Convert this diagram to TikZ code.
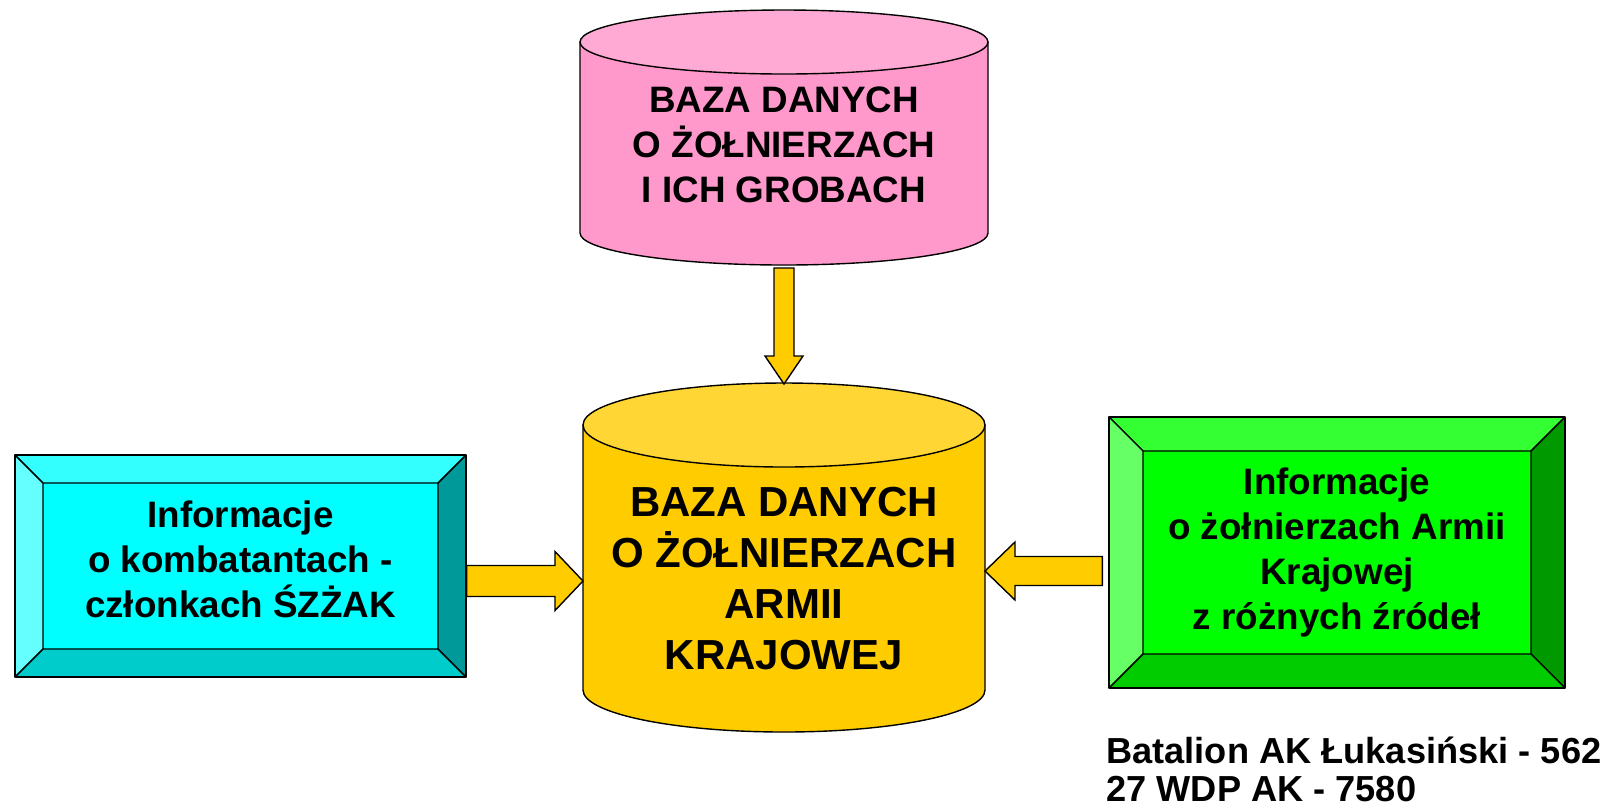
\documentclass[tikz,border=0pt]{standalone}
\usepackage{fontspec}
\setmainfont{Liberation Sans}
\usepackage{tikz}
\usetikzlibrary{calc}
\definecolor{grobyside}{HTML}{FF99CC}
\definecolor{grobytop}{HTML}{FFAAD5}
\definecolor{akside}{HTML}{FFCC00}
\definecolor{aktop}{HTML}{FFD633}
\definecolor{kombmid}{HTML}{00FFFF}
\definecolor{kombtop}{HTML}{33FFFF}
\definecolor{kombleft}{HTML}{66FFFF}
\definecolor{kombright}{HTML}{009999}
\definecolor{kombbottom}{HTML}{00CCCC}
\definecolor{zrodlamid}{HTML}{00FF00}
\definecolor{zrodlatop}{HTML}{33FF33}
\definecolor{zrodlaleft}{HTML}{66FF66}
\definecolor{zrodlaright}{HTML}{009900}
\definecolor{zrodlabottom}{HTML}{00CC00}
\newcommand{\fatarrow}[5]{%
  \path ($(#2)!#5!(#1)$) coordinate (fa-h);
  \draw [strzalka] ($(#1)!#3!90:(#2)$) -- ($(fa-h)!#3!90:(#2)$) -- ($(fa-h)!#4!90:(#2)$) -- (#2)
    -- ($(fa-h)!#4!-90:(#2)$) -- ($(fa-h)!#3!-90:(#2)$) -- ($(#1)!#3!-90:(#2)$) -- cycle;
}
\tikzset{
  strzalka/.style={draw=black,line width=0.7pt,fill=akside,line join=miter},
  opis/.style={font=\bfseries\fontsize{18.4}{22.5}\selectfont,align=center,inner sep=0pt},
  bevel/.style n args={6}{draw=black,line width=0.7pt,fill=#1,inner sep=0pt,
    path picture={
      \coordinate (bNW) at (path picture bounding box.north west);
      \coordinate (bNE) at (path picture bounding box.north east);
      \coordinate (bSW) at (path picture bounding box.south west);
      \coordinate (bSE) at (path picture bounding box.south east);
      \draw [fill=#2] (bNW) -- (bNE) -- ($(bNE)+(-#6,-#6)$) -- ($(bNW)+(#6,-#6)$) -- cycle;
      \draw [fill=#3] (bNW) -- (bSW) -- ($(bSW)+(#6,#6)$) -- ($(bNW)+(#6,-#6)$) -- cycle;
      \draw [fill=#4] (bNE) -- (bSE) -- ($(bSE)+(-#6,#6)$) -- ($(bNE)+(-#6,-#6)$) -- cycle;
      \draw [fill=#5] (bSW) -- (bSE) -- ($(bSE)+(-#6,#6)$) -- ($(bSW)+(#6,#6)$) -- cycle;
    }},
}
\begin{document}
\begin{tikzpicture}[line cap=round,line join=round,x=0.5pt,y=0.5pt]
  \useasboundingbox (0,0) rectangle (1617,-811);
  \draw [line width=0.7pt,fill=grobyside] (580,-42) -- (580,-233) arc (180:360:204 and 32) -- (988,-42) -- cycle;
  \draw [line width=0.7pt,fill=grobytop] (784,-42) ellipse (204 and 32);
  \node [opis] (groby) at (784,-145) {BAZA DANYCH\\O ŻOŁNIERZACH\\I ICH GROBACH};
  \draw [line width=0.7pt,fill=akside] (583,-425) -- (583,-690) arc (180:360:201 and 42) -- (985,-425) -- cycle;
  \draw [line width=0.7pt,fill=aktop] (784,-425) ellipse (201 and 42);
  \node [opis,font=\bfseries\fontsize{21}{25.5}\selectfont] (ak) at (784,-579) {BAZA DANYCH\\O ŻOŁNIERZACH\\ARMII\\KRAJOWEJ};
  \node [opis,bevel={kombmid}{kombtop}{kombleft}{kombright}{kombbottom}{14pt},
    minimum width=225.5pt,minimum height=111pt,text depth=7pt] (kombatanci) at (240.5,-566)
    {Informacje\\o kombatantach -\\członkach ŚZŻAK};
  \node [opis,bevel={zrodlamid}{zrodlatop}{zrodlaleft}{zrodlaright}{zrodlabottom}{17pt},
    minimum width=228pt,minimum height=135.5pt] (zrodla) at (1337,-552.5)
    {Informacje\\o żołnierzach Armii\\Krajowej\\z różnych źródeł};
  \node [opis,font=\bfseries\fontsize{18.1}{19}\selectfont,align=left,anchor=north west] (liczby) at (1106,-737)
    {Batalion AK Łukasiński - 562\\27 WDP AK - 7580};
  \coordinate (grobyS) at (784,-268);
  \coordinate (akN) at (784,-384);
  \coordinate (akW) at (583,-581);
  \coordinate (akE) at (985,-571);
  \coordinate (kombE) at (kombatanci.east |- akW);
  \coordinate (zrodlaW) at ($(zrodla.west |- akE)+(-6,0)$);
  \fatarrow{grobyS}{akN}{5pt}{9.5pt}{14pt}
  \fatarrow{kombE}{akW}{7.75pt}{14.75pt}{14pt}
  \fatarrow{zrodlaW}{akE}{7.25pt}{14.5pt}{15pt}
\end{tikzpicture}
\end{document}
